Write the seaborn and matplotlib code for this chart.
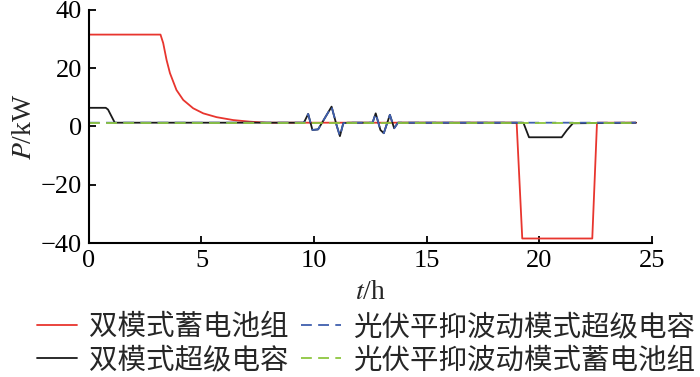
import matplotlib
matplotlib.use("Agg")
import matplotlib.pyplot as plt
import seaborn as sns
import pandas as pd

# ---- data ----
t_red = [0, 3.18, 3.30, 3.45, 3.60, 3.89, 4.19, 4.63, 5.08, 5.67, 6.41, 7.15, 7.9,
         19.0, 19.25, 22.36, 22.57, 24.3]
p_red = [31.5, 31.5, 28.6, 22.8, 18.3, 12.5, 9.1, 6.25, 4.5, 3.2, 2.2, 1.65, 1.3,
         1.3, -38.4, -38.4, 1.3, 1.3]

t_black = [0, 0.75, 0.85, 1.15, 9.55, 9.74, 9.93, 10.18, 10.45, 10.78, 11.0, 11.15,
           11.3, 11.5, 12.6, 12.74, 12.95, 13.1, 13.37, 13.56, 13.73,
           19.3, 19.55, 21.0, 21.24, 21.5, 24.3]
p_black = [6.4, 6.4, 5.8, 1.3, 1.3, 4.3, -1.2, -1.0, 2.5, 6.8, 0.5, -3.3,
           1.1, 1.3, 1.3, 4.5, -1.2, -2.3, 4.0, -0.6, 1.3,
           1.3, -3.7, -3.7, -1.2, 1.1, 1.3]

t_blue = [0, 9.55, 9.74, 9.93, 10.18, 10.45, 10.78, 11.0, 11.15, 11.3, 11.5,
          12.6, 12.74, 12.95, 13.1, 13.37, 13.56, 13.73, 24.3]
p_blue = [1.3, 1.3, 4.3, -1.2, -1.0, 2.5, 6.8, 0.5, -3.3, 1.1, 1.3,
          1.3, 4.5, -1.2, -2.3, 4.0, -0.6, 1.3, 1.3]

t_green = [0, 24.3]
p_green = [1.3, 1.3]

labels = ["双模式蓄电池组", "双模式超级电容", "光伏平抑波动模式超级电容", "光伏平抑波动模式蓄电池组"]
x_ticks = [0, 5, 10, 15, 20, 25]
y_ticks = [-40, -20, 0, 20, 40]
y_ticklabels = ["\u221240", "\u221220", "0", "20", "40"]

# ---- style ----
sns.set_theme(style="ticks")
plt.rcParams["font.family"] = ["Liberation Serif", "Noto Sans CJK SC"]
plt.rcParams["mathtext.fontset"] = "stix"

fig = plt.figure(figsize=(7.0, 3.77), dpi=100)
ax = fig.add_axes([0.127, 0.355, 0.804, 0.619])

series = [
    (t_red, p_red, labels[0], "#e8352e", "-"),
    (t_black, p_black, labels[1], "#1a1a1a", "-"),
    (t_blue, p_blue, labels[2], "#3f5fae", (0, (6, 3.5))),
    (t_green, p_green, labels[3], "#8dc63f", (0, (6, 3.5))),
]
for t, p, lab, col, ls in series:
    df = pd.DataFrame({"t": t, "P": p})
    sns.lineplot(data=df, x="t", y="P", ax=ax, color=col, linestyle=ls,
                 linewidth=1.3, label=lab, estimator=None, sort=False)

ax.set_xlim(0, 25)
ax.set_ylim(-40, 40)
ax.set_xticks(x_ticks)
ax.set_yticks(y_ticks)
ax.set_yticklabels(y_ticklabels)
ax.tick_params(direction="in", length=5, width=1.3, labelsize=19, colors="black", pad=5)
for s in ["top", "right"]:
    ax.spines[s].set_visible(False)
for s in ["left", "bottom"]:
    ax.spines[s].set_linewidth(1.5)
    ax.spines[s].set_color("black")

ax.set_xlabel(r"$\mathit{t}$/h", fontsize=20, labelpad=6)
ax.set_ylabel(r"$\mathit{P}$/kW", fontsize=20, labelpad=3)

ax.legend(loc="center", bbox_to_anchor=(0.523, 0.088), bbox_transform=fig.transFigure,
          ncol=2, frameon=False, handlelength=1.4, handletextpad=0.42,
          columnspacing=0.45, labelspacing=0.1, borderpad=0.1,
          prop={"family": ["Noto Sans CJK SC"], "size": 20.5})

fig.savefig("out.png", dpi=100)
